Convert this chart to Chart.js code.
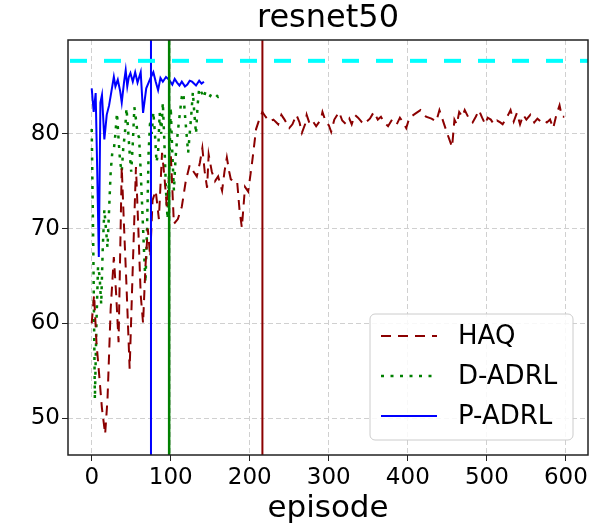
<!DOCTYPE html>
<html>
<head>
<meta charset="utf-8">
<script src="https://cdn.jsdelivr.net/npm/chart.js@4.4.1/dist/chart.umd.min.js"></script>
<style>
  html, body { margin: 0; padding: 0; background: #fff; }
</style>
</head>
<body>
<canvas id="chart" width="608" height="528"></canvas>
<script>
// HAQ (episode, accuracy)
const haqEpisodes = [0, 3, 6, 9, 13, 17, 20, 24, 28, 31, 34, 38, 41, 44, 48, 52, 56, 59, 62, 65, 68, 71, 74, 77, 81, 85, 89, 92, 95, 100,
  104, 109, 114, 119, 124, 129, 133, 137, 140, 143, 146, 148, 152, 156, 160, 165, 168, 171, 174, 176, 180, 184, 187, 190, 194, 198, 203, 208, 212,
  216, 220, 225, 230, 236, 240, 244, 250, 254, 259, 263, 266, 270, 272, 276, 280, 284, 290, 292, 296, 300, 303, 307, 313, 317, 322, 326, 329, 333,
  337, 341, 344, 348, 352, 357, 362, 366, 370, 375, 380, 386, 390, 394, 398, 402, 409, 416, 423, 430, 436, 440, 446, 450, 456, 459, 462, 465, 469,
  472, 478, 482, 486, 490, 494, 498, 501, 505, 509, 513, 517, 520, 527, 530, 534, 538, 542, 546, 550, 555, 560, 564, 568, 572, 576, 580, 584, 588,
  592, 595, 598];
const haqAccuracy = [60, 63, 58, 55, 51, 48.3, 52, 61.5, 67, 63, 58, 76.5, 70, 64, 55.2, 66, 76.5, 70, 63, 60, 66, 70, 67, 73, 74, 71, 78, 75.5, 72.3, 78,
  70.5, 71, 72.3, 75, 76.7, 76, 75.5, 77, 78.5, 76, 74.3, 77.8, 76, 75, 75.5, 74, 76, 77.5, 76, 75.2, 75, 75, 72, 70.1, 74.4, 73.9, 77, 80.5, 81.5,
  82.3, 81.8, 81.3, 81.5, 81, 82, 81.5, 80.6, 81, 82, 81.2, 80.1, 81, 82, 81, 81.3, 80.8, 81.5, 82.3, 81.3, 80.9, 80.2, 81.5, 82.3, 81.4, 81, 81.6, 81, 82,
  81.7, 81.3, 81, 81.3, 81.6, 82.3, 81.5, 81.8, 81.2, 80.8, 81.5, 81, 81.7, 81.2, 80.6, 81.7, 82.1, 82.5, 81.8, 81.6, 81.3, 82.5, 81, 80, 78.6, 81.5, 81, 82.3, 81.8,
  82.5, 81.5, 81.2, 81.8, 82.5, 81.7, 81, 81.7, 81.5, 81, 81.4, 81.2, 81, 82, 82.5, 81.3, 82.2, 81, 82, 81.5, 82, 81.2, 81.6, 81.3, 81.5, 81.2, 81.5, 80.6, 82,
  83, 81.8, 81.8];

// D-ADRL
const dadrlEpisodes = [0, 2, 4, 6, 8, 10, 12, 14, 16, 18, 20, 22, 24, 26, 28, 30, 32, 34, 36, 38, 40, 42, 44, 46, 48, 50, 52, 54, 56, 58,
  60, 62, 64, 66, 68, 70, 72, 74, 76, 78, 80, 82, 84, 86, 88, 90, 92, 94, 96, 98, 100, 102, 104, 106, 108, 110, 112, 114, 116, 118,
  120, 122, 124, 126, 128, 130, 132, 134, 136, 138, 140, 142, 144, 146, 148, 150, 152, 156, 160, 164];
const dadrlAccuracy = [80.5, 68, 52, 60, 66, 65, 62, 68, 72, 70, 68, 72, 76, 78, 78.3, 80, 82.2, 79.4, 77, 76, 78.6, 80, 82.7, 80.5, 78, 76, 79, 82.8, 81.5, 80,
  79.6, 76, 72, 68, 64.3, 70, 78, 81.5, 80, 82.3, 80, 77, 78, 82.2, 80, 83.3, 79, 74, 71, 76, 82.8, 78, 74, 77.3, 79.4, 81, 82.5, 83.9, 84.3, 82,
  80, 78, 80, 82, 84.4, 82, 80, 83, 84.8, 84.5, 84.2, 83.8, 84.5, 84.3, 84.1, 84, 84.3, 84.2, 83.9, 84.1];

// P-ADRL
const padrlEpisodes = [0, 2.5, 5, 7, 9, 11, 13, 16, 19, 22, 25, 28, 30, 33, 36, 38, 41, 43, 45, 47, 49, 52, 55, 58, 62, 65, 69, 72, 75, 78,
  81, 84, 87, 90, 94, 98, 102, 105, 108, 111, 114, 118, 121, 124, 127, 132, 136, 139, 142];
const padrlAccuracy = [84.8, 82.3, 84.3, 76, 67, 83.3, 84.1, 79.4, 82, 83, 84.5, 86, 85, 85.7, 84.5, 83.3, 85.5, 86.7, 85, 86, 86.4, 85.5, 86.5, 85.4, 86.5, 82.2, 84.8, 85.4, 86, 86.5,
  85.5, 84.6, 85.9, 85.5, 86, 85.7, 85.2, 85.8, 85.4, 85.1, 85.5, 85, 85.2, 85.6, 85.5, 85.1, 85.6, 85.3, 85.5];

const markerEpisodes = [216, 98, 75];   // HAQ, D-ADRL, P-ADRL
const targetAccuracy = 87.7;
const xRange = [-30, 628];
const yRange = [46.1, 89.9];
const chartTitle = 'resnet50';

const FONT = "'DejaVu Sans', sans-serif";
const colors = ['#8b0000', '#008000', '#0000ff'];

function pairs(xs, ys) {
  return xs.map((x, i) => ({ x: x, y: ys[i] }));
}

// vertical markers, target line, axes box and title
const overlays = {
  id: 'overlays',
  afterDatasetsDraw(chart) {
    const { ctx, chartArea: a, scales } = chart;
    ctx.save();
    ctx.beginPath();
    ctx.rect(a.left, a.top, a.right - a.left, a.bottom - a.top);
    ctx.clip();
    const widths = [2, 2.5, 2];
    markerEpisodes.forEach((ep, i) => {
      const px = scales.x.getPixelForValue(ep);
      ctx.strokeStyle = colors[i];
      ctx.lineWidth = widths[i];
      ctx.setLineDash([]);
      ctx.beginPath();
      ctx.moveTo(px, a.top);
      ctx.lineTo(px, a.bottom);
      ctx.stroke();
    });
    const py = scales.y.getPixelForValue(targetAccuracy);
    ctx.strokeStyle = '#00ffff';
    ctx.lineWidth = 4;
    ctx.setLineDash([17, 17]);
    ctx.lineDashOffset = -2;
    ctx.beginPath();
    ctx.moveTo(a.left, py);
    ctx.lineTo(a.right, py);
    ctx.stroke();
    ctx.restore();

    ctx.save();
    ctx.strokeStyle = '#222';
    ctx.lineWidth = 1.5;
    ctx.strokeRect(a.left, a.top, a.right - a.left, a.bottom - a.top);
    ctx.fillStyle = '#000';
    ctx.font = '32px ' + FONT;
    ctx.textAlign = 'center';
    ctx.textBaseline = 'middle';
    ctx.fillText(chartTitle, (a.left + a.right) / 2, 19);
    ctx.restore();
  }
};

const boxLegend = {
  id: 'boxLegend',
  afterDraw(chart) {
    const { ctx, chartArea: a } = chart;
    const w = 203, h = 126;
    const x = a.right - 15 - w, y = a.bottom - 15 - h;
    ctx.save();
    ctx.beginPath();
    ctx.roundRect(x, y, w, h, 5);
    ctx.fillStyle = 'rgba(255,255,255,0.85)';
    ctx.fill();
    ctx.strokeStyle = '#cccccc';
    ctx.lineWidth = 1;
    ctx.stroke();
    ctx.font = '26px ' + FONT;
    ctx.textBaseline = 'middle';
    chart.data.datasets.forEach((ds, i) => {
      const ry = y + 22 + i * 40;
      ctx.strokeStyle = ds.borderColor;
      ctx.lineWidth = ds.borderWidth;
      ctx.setLineDash(ds.borderDash || []);
      ctx.beginPath();
      ctx.moveTo(x + 11, ry);
      ctx.lineTo(x + 67, ry);
      ctx.stroke();
      ctx.fillStyle = '#000';
      ctx.fillText(ds.label, x + 88, ry + 1);
    });
    ctx.restore();
  }
};

new Chart(document.getElementById('chart').getContext('2d'), {
  type: 'line',
  data: {
    datasets: [
      { label: 'HAQ', data: pairs(haqEpisodes, haqAccuracy), borderColor: colors[0], borderWidth: 2, borderDash: [10, 7] },
      { label: 'D-ADRL', data: pairs(dadrlEpisodes, dadrlAccuracy), borderColor: colors[1], borderWidth: 2.5, borderDash: [3, 6.5] },
      { label: 'P-ADRL', data: pairs(padrlEpisodes, padrlAccuracy), borderColor: colors[2], borderWidth: 2 }
    ]
  },
  options: {
    responsive: false,
    animation: false,
    devicePixelRatio: 1,
    elements: { point: { radius: 0 }, line: { tension: 0, fill: false } },
    layout: { padding: { left: 0, right: 20, top: 40, bottom: 0 } },
    plugins: {
      legend: { display: false },
      tooltip: { enabled: false },
      title: { display: false }
    },
    scales: {
      x: {
        type: 'linear', min: xRange[0], max: xRange[1],
        afterFit(s) { s.height = 73; },
        ticks: { stepSize: 100, includeBounds: false, color: '#000', padding: 3, maxRotation: 0,
          font: { family: FONT, size: 23 } },
        grid: { color: '#d0d0d0', lineWidth: 1, tickColor: '#222', tickLength: 6, tickBorderDash: [] },
        border: { display: false, dash: [5, 3] },
        title: { display: true, text: 'episode', color: '#000', font: { family: FONT, size: 31 }, padding: { top: 0, bottom: 0 } }
      },
      y: {
        type: 'linear', min: yRange[0], max: yRange[1],
        afterFit(s) { s.width = 68; },
        ticks: { stepSize: 10, includeBounds: false, color: '#000', padding: 2,
          font: { family: FONT, size: 23 } },
        grid: { color: '#d0d0d0', lineWidth: 1, tickColor: '#222', tickLength: 6, tickBorderDash: [] },
        border: { display: false, dash: [5, 3] }
      }
    }
  },
  plugins: [overlays, boxLegend]
});
</script>
</body>
</html>
